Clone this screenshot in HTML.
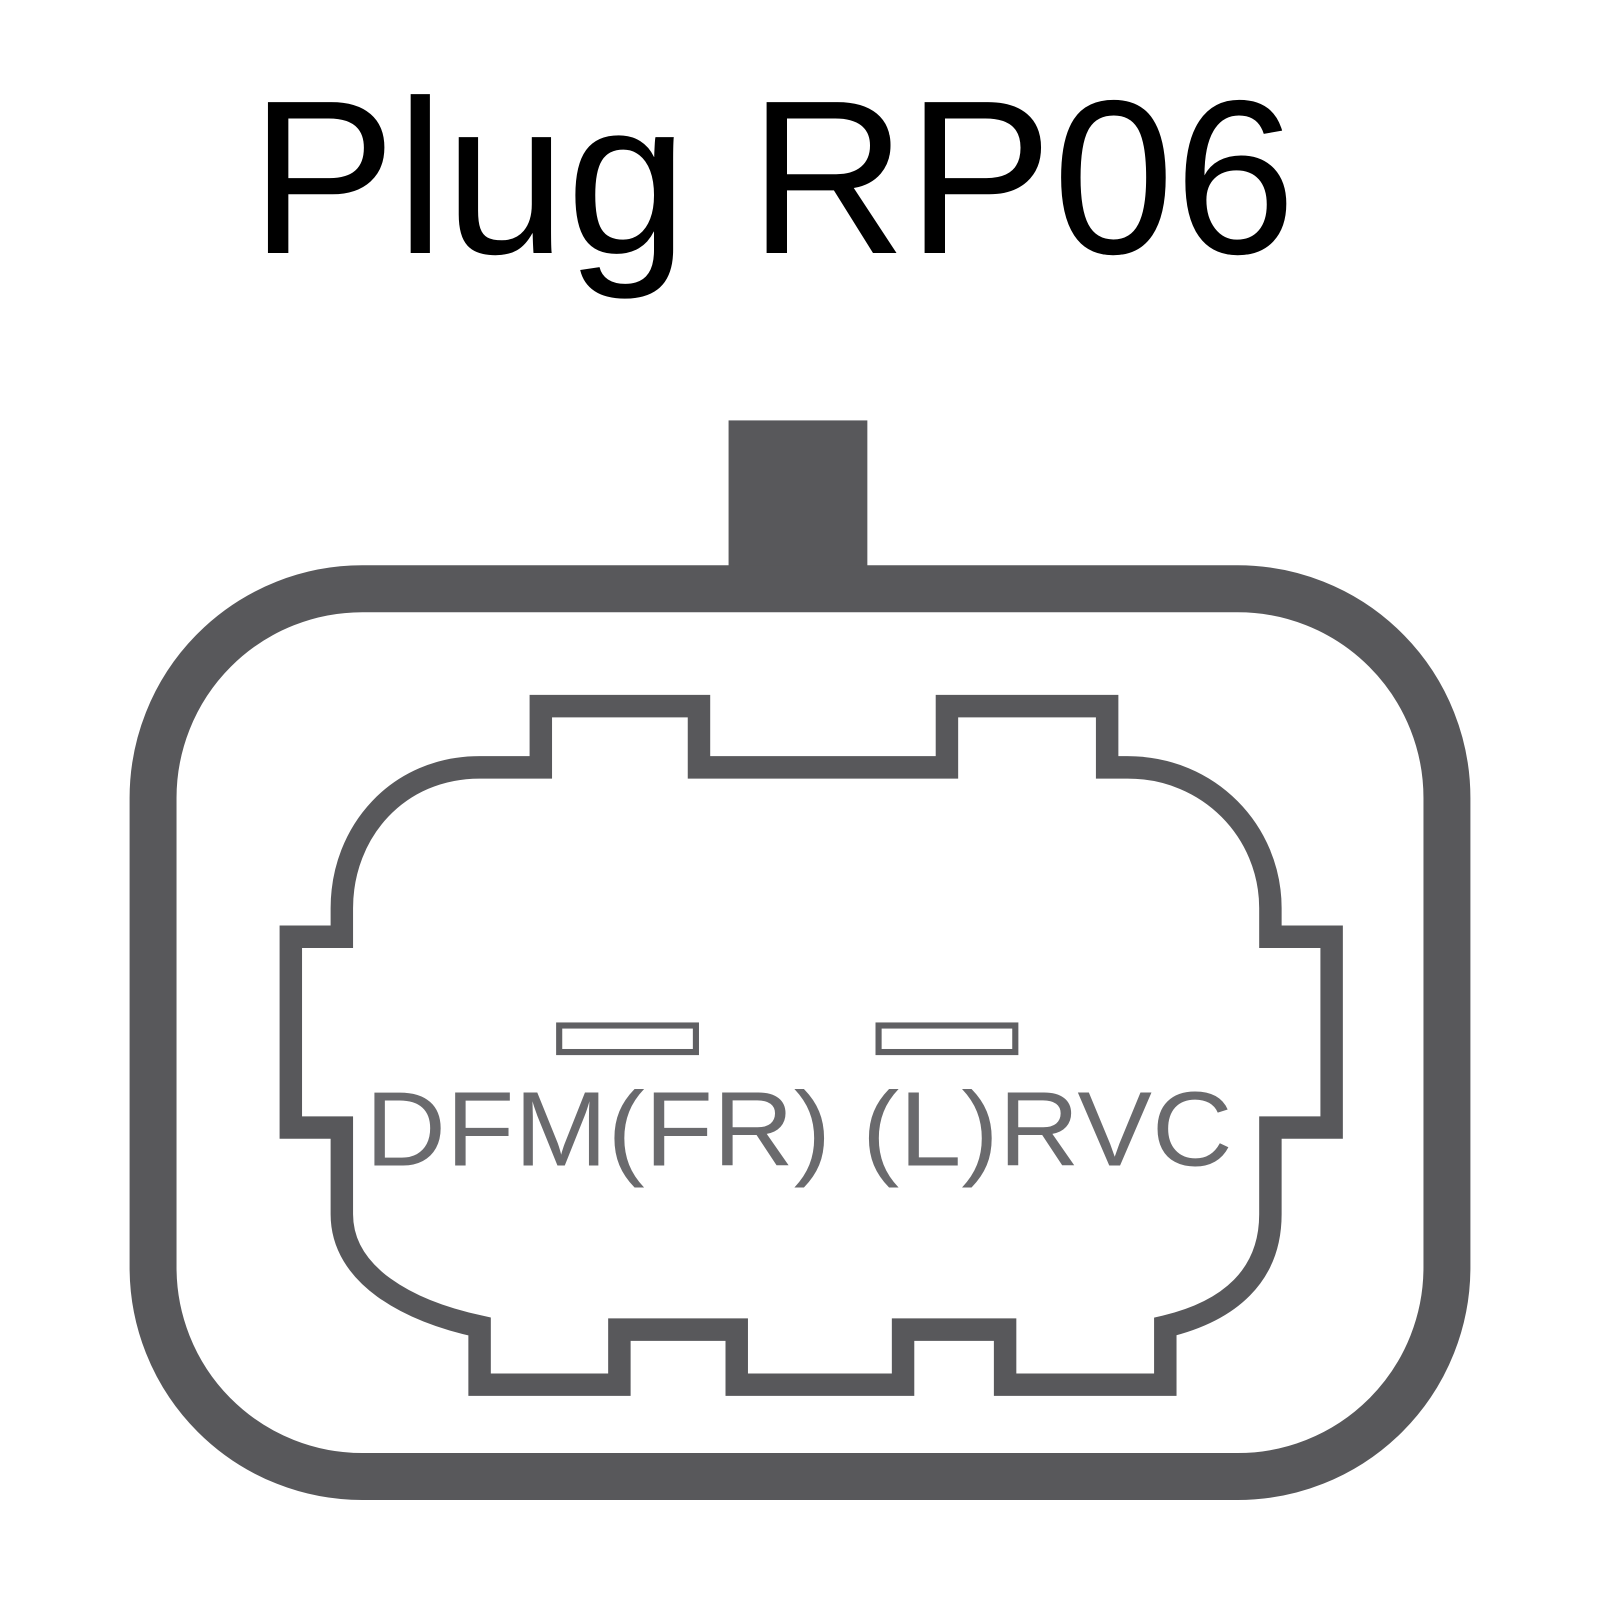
<!DOCTYPE html>
<html><head><style>html,body{margin:0;padding:0;background:#fff;}svg{display:block}</style></head>
<body>
<svg width="1600" height="1600" viewBox="0 0 1568 1568" xmlns="http://www.w3.org/2000/svg">
<rect width="1568" height="1568" fill="#fff"/>
<text x="245" y="248" font-family="Liberation Sans, sans-serif" font-size="215" fill="#000" textLength="1025" lengthAdjust="spacingAndGlyphs">Plug RP06</text>
<rect x="714" y="412" width="136" height="160" fill="#58585b"/>
<rect x="150" y="577" width="1268" height="870" rx="205" ry="205" fill="none" stroke="#58585b" stroke-width="46"/>
<path d="M470,752 L530,752 L530,692 L685,692 L685,752 L928,752 L928,692 L1085,692 L1085,752 L1105,752 C1185,752 1245,815 1245,890 L1245,918 L1305,918 L1305,1105 L1245,1105 L1245,1190 C1245,1250 1205,1285 1142,1300 L1142,1357 L985,1357 L985,1303 L885,1303 L885,1357 L722,1357 L722,1303 L607,1303 L607,1357 L470,1357 L470,1300 C400,1285 335,1250 335,1190 L335,1105 L285,1105 L285,918 L335,918 L335,890 C335,815 390,752 470,752 Z" fill="none" stroke="#58585b" stroke-width="22" stroke-linejoin="miter"/>
<rect x="548" y="1005" width="134" height="26" fill="none" stroke="#606063" stroke-width="6"/>
<rect x="861" y="1005" width="134" height="26" fill="none" stroke="#606063" stroke-width="6"/>
<text x="358" y="1142" font-family="Liberation Sans, sans-serif" font-size="104" fill="#6a6a6d" textLength="850" lengthAdjust="spacingAndGlyphs">DFM(FR) (L)RVC</text>
</svg>
</body></html>
